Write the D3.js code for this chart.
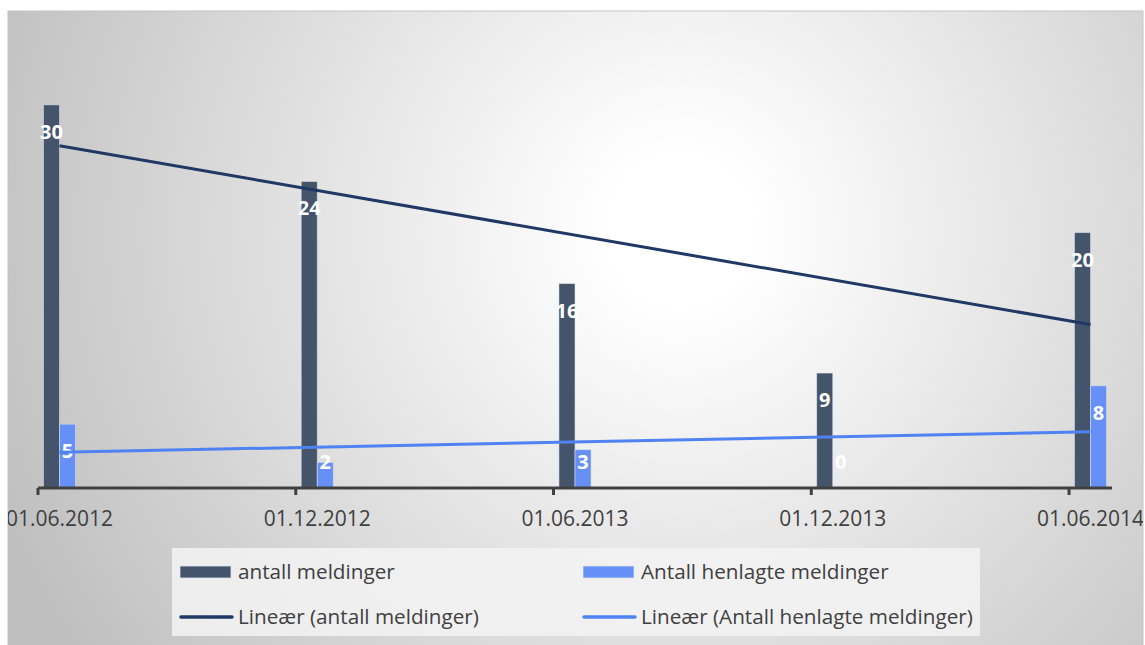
<!DOCTYPE html>
<html>
<head>
<meta charset="utf-8">
<script src="https://cdn.jsdelivr.net/npm/d3@7"></script>
<style>
  html, body { margin: 0; padding: 0; background: #fff; }
  svg { display: block; font-family: "Open Sans", "Liberation Sans", sans-serif; }
</style>
</head>
<body>
<svg id="chart"></svg>
<script>
// kategorier (datoer) og verdier
const dates = ["01.06.2012", "01.12.2012", "01.06.2013", "01.12.2013", "01.06.2014"];
const antallMeldinger = [30, 24, 16, 9, 20];
const antallHenlagte = [5, 2, 3, 0, 8];
const seriesNames = ["antall meldinger", "Antall henlagte meldinger"];
const trendNames = ["Lineær (antall meldinger)", "Lineær (Antall henlagte meldinger)"];

const width = 1145, height = 645;
const colors = { dark: "#44546a", light: "#6690f5", darkTrend: "#1f3864", lightTrend: "#4f82f2", text: "#404040" };

const svg = d3.select("#chart").attr("width", width).attr("height", height);

// bakgrunn med radial gradient
const defs = svg.append("defs");
const grad = defs.append("radialGradient")
  .attr("id", "bg").attr("gradientUnits", "userSpaceOnUse")
  .attr("cx", 680).attr("cy", 230).attr("r", 740);
grad.append("stop").attr("offset", "0.1").attr("stop-color", "#ffffff");
grad.append("stop").attr("offset", "1").attr("stop-color", "#bfbfbf");

svg.append("rect").attr("x", 8).attr("y", 11).attr("width", 1135).attr("height", 640)
  .attr("fill", "url(#bg)").attr("stroke", "#c4c4c4").attr("stroke-width", 1);

// skalaer
const parse = d3.timeParse("%d.%m.%Y");
const start = parse(dates[0]);
const monthIdx = dates.map(d => d3.timeMonth.count(start, parse(d)));
const x = d3.scaleLinear().domain([0, d3.max(monthIdx) + 1]).range([38, 1112]);
const slotW = x(1) - x(0);
const inner = d3.scaleBand().domain([0, 1]).range([0, slotW]).paddingInner(0).paddingOuter(0.34);
const y = d3.scaleLinear().domain([0, 35]).range([488, 41]);

const rows = dates.map((d, i) => ({ m: monthIdx[i], vals: [antallMeldinger[i], antallHenlagte[i]] }));

// søyler
const groups = svg.append("g").selectAll("g").data(rows).join("g")
  .attr("transform", d => `translate(${x(d.m)},0)`);
groups.selectAll("rect").data(d => d.vals).join("rect")
  .attr("x", (v, j) => inner(j))
  .attr("width", inner.bandwidth())
  .attr("y", v => y(v))
  .attr("height", v => y(0) - y(v))
  .attr("fill", (v, j) => j === 0 ? colors.dark : colors.light)
  .attr("stroke", "#dfe3ea").attr("stroke-opacity", 0.7).attr("stroke-width", 0.8);

// dataetiketter
groups.selectAll("text").data(d => d.vals).join("text")
  .attr("x", (v, j) => inner(j) + inner.bandwidth() / 2)
  .attr("y", v => Math.min(y(v) + 27, y(0) - 26))
  .attr("dy", "0.35em")
  .attr("text-anchor", "middle")
  .attr("fill", "#fff")
  .attr("font-weight", "bold")
  .attr("font-size", 20)
  .text(v => v);

// lineære trendlinjer (minste kvadraters metode)
function trend(vals) {
  const n = vals.length, xs = d3.range(n);
  const mx = d3.mean(xs), my = d3.mean(vals);
  const b = d3.sum(xs, i => (i - mx) * (vals[i] - my)) / d3.sum(xs, i => (i - mx) ** 2);
  const a = my - b * mx;
  return [0, n - 1].map(i => ({ m: monthIdx[i] + 0.5, v: a + b * i }));
}
const line = d3.line().x(d => x(d.m)).y(d => y(d.v));
svg.append("path").attr("d", line(trend(antallMeldinger)))
  .attr("fill", "none").attr("stroke", colors.darkTrend).attr("stroke-width", 3);
svg.append("path").attr("d", line(trend(antallHenlagte)))
  .attr("fill", "none").attr("stroke", colors.lightTrend).attr("stroke-width", 3);

// x-akse
const axis = svg.append("g").attr("transform", `translate(0,${y(0)})`);
axis.append("line").attr("x1", x.range()[0]).attr("x2", x.range()[1])
  .attr("stroke", colors.text).attr("stroke-width", 3);
axis.selectAll(".tick").data(monthIdx).join("line")
  .attr("x1", d => x(d)).attr("x2", d => x(d))
  .attr("y1", 0).attr("y2", 7)
  .attr("stroke", colors.text).attr("stroke-width", 3);

defs.append("clipPath").attr("id", "panelClip").append("rect")
  .attr("x", 8).attr("y", 11).attr("width", 1135).attr("height", 640);
svg.append("g").attr("clip-path", "url(#panelClip)")
  .selectAll("text").data(dates).join("text")
  .attr("x", (d, i) => x(monthIdx[i] + 0.5))
  .attr("y", 526)
  .attr("text-anchor", "middle")
  .attr("fill", colors.text)
  .attr("font-size", 21)
  .text(d => d);

// forklaring
const legend = svg.append("g");
legend.append("rect").attr("x", 172).attr("y", 548).attr("width", 808).attr("height", 88)
  .attr("fill", "#f3f3f3").attr("fill-opacity", 0.85);
const cols = [180, 583];
const items = [
  { name: seriesNames[0], type: "bar", color: colors.dark, col: 0, row: 0 },
  { name: seriesNames[1], type: "bar", color: colors.light, col: 1, row: 0 },
  { name: trendNames[0], type: "line", color: colors.darkTrend, col: 0, row: 1 },
  { name: trendNames[1], type: "line", color: colors.lightTrend, col: 1, row: 1 }
];
const li = legend.selectAll("g.item").data(items).join("g")
  .attr("transform", d => `translate(${cols[d.col]},${d.row === 0 ? 572 : 617})`);
li.filter(d => d.type === "bar").append("rect")
  .attr("x", 0).attr("y", -6).attr("width", 51).attr("height", 12)
  .attr("fill", d => d.color).attr("stroke", "#dfe3ea").attr("stroke-width", 0.8);
li.filter(d => d.type === "line").append("line")
  .attr("x1", 1).attr("x2", 52).attr("y1", 0).attr("y2", 0)
  .attr("stroke", d => d.color).attr("stroke-width", 3.5).attr("stroke-linecap", "round");
li.append("text").attr("x", 58).attr("dy", "0.35em")
  .attr("fill", colors.text).attr("font-size", 20.7)
  .text(d => d.name);
</script>
</body>
</html>
